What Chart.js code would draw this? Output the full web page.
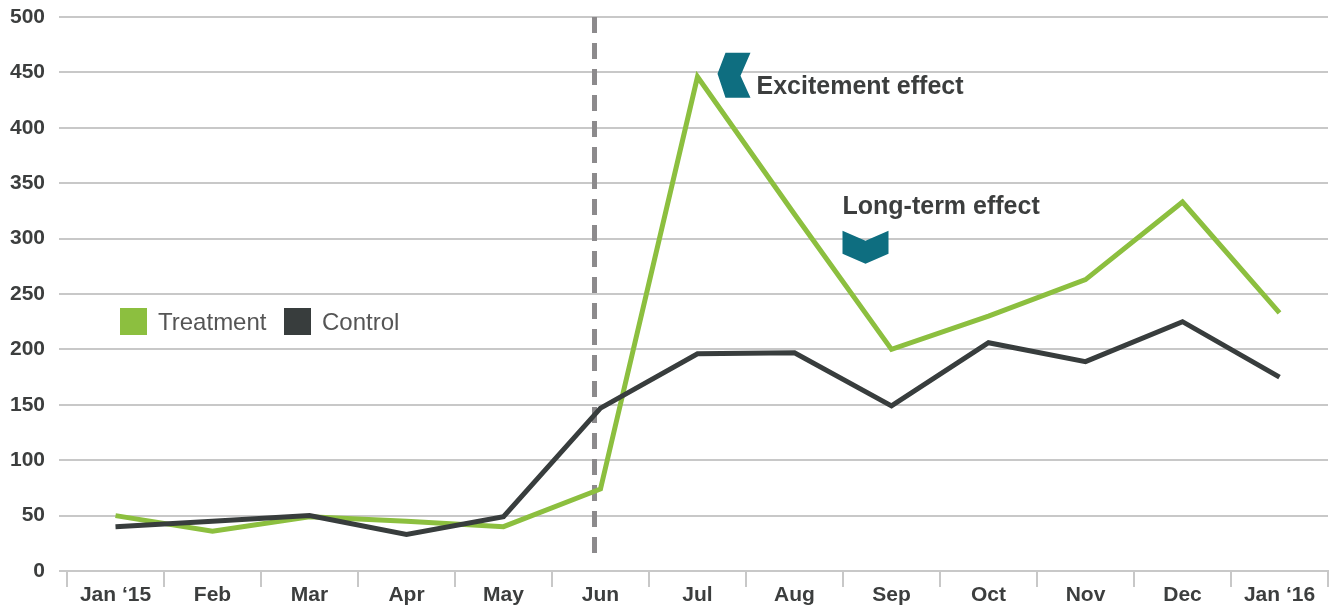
<!DOCTYPE html>
<html>
<head>
<meta charset="utf-8">
<script src="https://cdn.jsdelivr.net/npm/chart.js@4/dist/chart.umd.min.js"></script>
<style>
	html, body { margin: 0; padding: 0; background: #fff; }
	#wrap { width: 1330px; height: 605px; position: relative; }
</style>
</head>
<body>
<div id="wrap"><canvas id="effectChart" width="1330" height="605"></canvas></div>
<script>
var months = ['Jan \u201815', 'Feb', 'Mar', 'Apr', 'May', 'Jun', 'Jul', 'Aug', 'Sep', 'Oct', 'Nov', 'Dec', 'Jan \u201816'];
var treatment = [50, 36, 49, 45, 40, 74, 446, 322, 200, 230, 263, 333, 233];
var control = [40, 45, 50, 33, 49, 147, 196, 197, 149, 206, 189, 225, 175];
var yTicks = [0, 50, 100, 150, 200, 250, 300, 350, 400, 450, 500];
var seriesNames = ['Treatment', 'Control'];
var notes = ['Excitement effect', 'Long-term effect'];
var launchMonth = 'Jun';

(function(window, document, undefined) {
	var green = '#8cbf3f';
	var dark = '#383d3d';
	var teal = '#0e6e80';
	var textColor = '#3c3e3e';
	var gridColor = '#c8c8c8';
	var fontFamily = '"Liberation Sans", Arial, sans-serif';

	// dashed launch line, legend and the two callouts
	var extras = {
		id: 'extras',
		beforeDatasetsDraw: function(chart) {
			var ctx = chart.ctx;
			var x = chart.scales.x;
			var y = chart.scales.y;
			var lx = x.getPixelForValue(months.indexOf(launchMonth)) - 6;
			ctx.save();
			ctx.strokeStyle = '#8c8a8c';
			ctx.lineWidth = 5;
			ctx.setLineDash([16, 10]);
			ctx.beginPath();
			ctx.moveTo(lx, y.getPixelForValue(500));
			ctx.lineTo(lx, y.getPixelForValue(14));
			ctx.stroke();
			ctx.restore();
		},
		afterDatasetsDraw: function(chart) {
			var ctx = chart.ctx;
			var x = chart.scales.x;
			var y = chart.scales.y;
			ctx.save();

			// legend
			ctx.font = '24px ' + fontFamily;
			ctx.textBaseline = 'middle';
			ctx.textAlign = 'left';
			ctx.fillStyle = green;
			ctx.fillRect(120, 308, 27, 27);
			ctx.fillStyle = '#555';
			ctx.fillText(seriesNames[0], 158, 323);
			ctx.fillStyle = dark;
			ctx.fillRect(284, 308, 27, 27);
			ctx.fillStyle = '#555';
			ctx.fillText(seriesNames[1], 322, 323);

			// excitement chevron (points left)
			var ex = x.getPixelForValue(6) + 20;
			var ey = y.getPixelForValue(446);
			ctx.fillStyle = teal;
			ctx.beginPath();
			ctx.moveTo(ex + 8, ey - 24);
			ctx.lineTo(ex + 33, ey - 24);
			ctx.lineTo(ex + 23, ey - 1);
			ctx.lineTo(ex + 33, ey + 21);
			ctx.lineTo(ex + 8, ey + 21);
			ctx.lineTo(ex, ey - 3);
			ctx.closePath();
			ctx.fill();

			// long-term chevron (points down)
			var lx = x.getPixelForValue(8) - 49;
			var ly = y.getPixelForValue(307);
			ctx.beginPath();
			ctx.moveTo(lx, ly);
			ctx.lineTo(lx + 23, ly + 10);
			ctx.lineTo(lx + 46, ly);
			ctx.lineTo(lx + 46, ly + 23);
			ctx.lineTo(lx + 23, ly + 33);
			ctx.lineTo(lx, ly + 23);
			ctx.closePath();
			ctx.fill();

			ctx.font = 'bold 25px ' + fontFamily;
			ctx.fillStyle = textColor;
			ctx.fillText(notes[0], ex + 39, ey + 10);
			ctx.fillText(notes[1], lx, ly - 24);

			ctx.restore();
		}
	};

	var ctx = document.querySelector('#effectChart');
	var chart = new Chart(ctx, {
		type: 'line',
		data: {
			labels: months,
			datasets: [{
				label: seriesNames[1],
				data: control,
				borderColor: dark,
				backgroundColor: dark,
				borderWidth: 5,
				pointRadius: 0,
				tension: 0
			}, {
				label: seriesNames[0],
				data: treatment,
				borderColor: green,
				backgroundColor: green,
				borderWidth: 5,
				pointRadius: 0,
				tension: 0
			}]
		},
		options: {
			responsive: false,
			animation: false,
			layout: {
				padding: { top: 17, right: 2, left: 0, bottom: 0 }
			},
			plugins: {
				legend: { display: false },
				tooltip: { enabled: false }
			},
			scales: {
				x: {
					offset: true,
					grid: {
						offset: true,
						drawOnChartArea: false,
						drawTicks: true,
						tickLength: 16,
						color: gridColor,
						lineWidth: 2
					},
					border: { display: true, color: gridColor, width: 2 },
					ticks: {
						color: textColor,
						padding: -4,
						maxRotation: 0,
						autoSkip: false,
						font: { family: fontFamily, size: 21, weight: 'bold' }
					},
					afterFit: function(scale) {
						scale.height = 34;
						scale.paddingLeft = 0;
						scale.paddingRight = 0;
					}
				},
				y: {
					min: 0,
					max: 500,
					afterBuildTicks: function(scale) {
						scale.ticks = yTicks.map(function(v) { return { value: v }; });
					},
					grid: {
						color: gridColor,
						lineWidth: 2,
						drawTicks: true,
						tickLength: 8
					},
					border: { display: false },
					ticks: {
						color: textColor,
						padding: 14,
						font: { family: fontFamily, size: 21, weight: 'bold' }
					},
					afterFit: function(scale) {
						scale.width = 67;
						scale.paddingTop = 0;
						scale.paddingBottom = 0;
					}
				}
			}
		},
		plugins: [extras]
	});
})(window, document);
</script>
</body>
</html>
